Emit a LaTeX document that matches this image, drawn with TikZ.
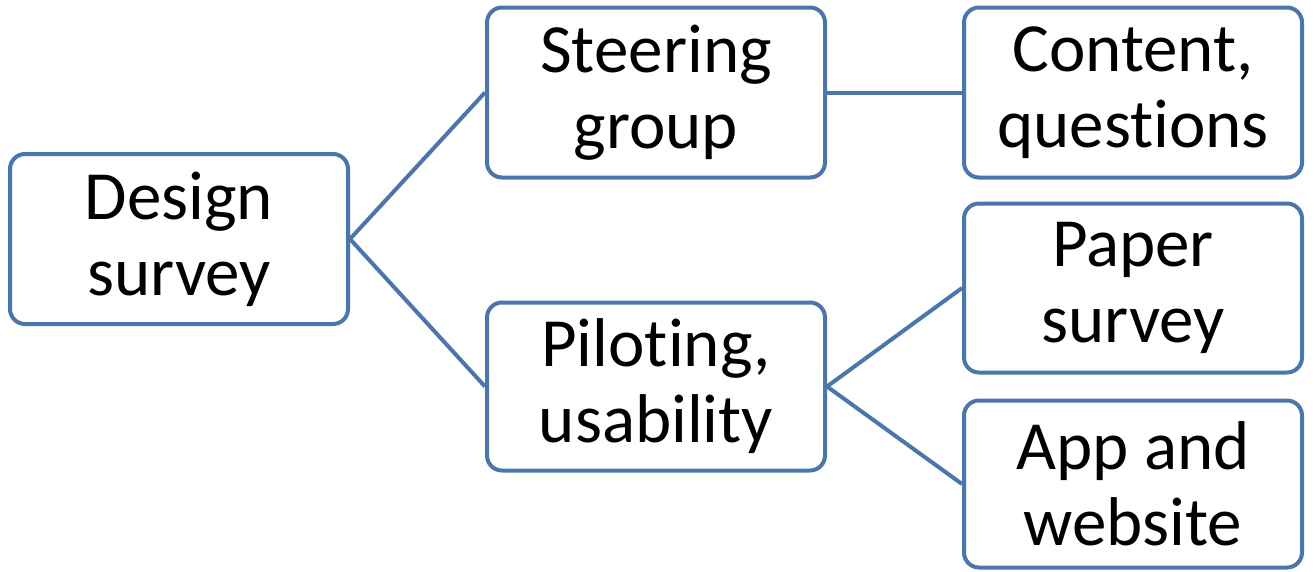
\documentclass[tikz,border=0pt]{standalone}
\usepackage{fontspec}
\setmainfont[Ligatures={NoCommon,NoContextual}]{Carlito}
\definecolor{boxblue}{HTML}{4A76AC}
\begin{document}
\begin{tikzpicture}[x=1pt,y=-1pt,
  box/.style={draw=boxblue,line width=4pt,rounded corners=15pt,minimum width=338pt,align=center,
    font=\fontsize{69}{76}\selectfont,inner sep=0pt},
  link/.style={draw=boxblue,line width=4pt}]
\useasboundingbox (0,0) rectangle (1314,571);
\node[box,minimum height=170pt] (ds) at (179,239) {Design\\survey};
\node[box,minimum height=170pt] (sg) at (656,92.5) {Steering\\group};
\node[box,minimum height=168pt] (pu) at (656,386.5) {Pilot\kern0pt ing,\\usability};
\node[box,minimum height=170pt] (cq) at (1133,92.5) {Content,\\questions};
\node[box,minimum height=169pt] (ps) at (1133,288) {Paper\\survey};
\node[box,minimum height=167pt] (aw) at (1133,484) {App and\\website};
\draw[link] (ds.east) -- (sg.west);
\draw[link] (ds.east) -- (pu.west);
\draw[link] (sg.east) -- (cq.west);
\draw[link] (pu.east) -- (ps.west);
\draw[link] (pu.east) -- (aw.west);
\end{tikzpicture}
\end{document}
